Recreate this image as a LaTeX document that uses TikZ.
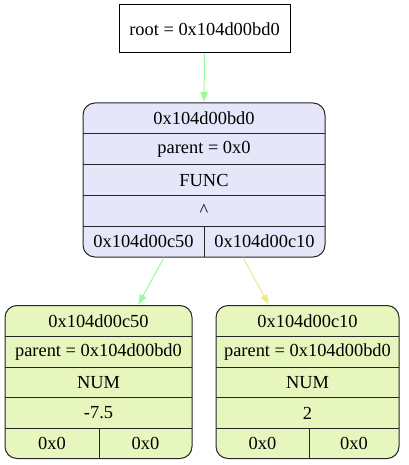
\documentclass[tikz,border=0pt]{standalone}
\usepackage{fontspec}
\setmainfont{Liberation Serif}
\usetikzlibrary{arrows.meta}
\definecolor{lav}{HTML}{E6E6FA}
\definecolor{leaf}{HTML}{E6F6BC}
\definecolor{pgreen}{HTML}{98FB98}
\definecolor{khak}{HTML}{F0E68C}
\tikzset{
  rec/.style={draw=black!85, line width=1pt, rounded corners=12pt, inner sep=0pt},
  plainbox/.style={draw=black, line width=1pt, inner sep=0pt},
  lbl/.style={inner sep=0pt, font=\fontsize{18.4}{20}\selectfont},
  sep/.style={draw=black!85, line width=1pt},
  edge/.style={line width=1pt, -{Triangle[length=10pt,width=7pt]}, shorten >=0.5pt}
}
\begin{document}
\begin{tikzpicture}[x=1pt,y=-1pt]
\useasboundingbox (0,0) rectangle (408,465);
% root
\node[plainbox, minimum width=171pt, minimum height=48pt] (root) at (204.5,29) {};
\node[lbl] (roott) at (204.5,29) {root = 0x104d00bd0};
% main record
\node[rec, fill=lav, minimum width=242pt, minimum height=154pt] (m) at (204,180) {};
\draw[sep] (83,133.8) -- (325,133.8);
\draw[sep] (83,164.6) -- (325,164.6);
\draw[sep] (83,195.4) -- (325,195.4);
\draw[sep] (83,226.2) -- (325,226.2);
\draw[sep] (204,226.2) -- (204,257);
\node[lbl] (m1) at (204,118.4) {0x104d00bd0};
\node[lbl] (m2) at (204,149.2) {parent = 0x0};
\node[lbl] (m3) at (204,180) {FUNC};
\node[lbl] (m4) at (204,210.8) {\^{}};
\node[lbl] (m5) at (143.5,241.6) {0x104d00c50};
\node[lbl] (m6) at (264.5,241.6) {0x104d00c10};
% left child
\node[rec, fill=leaf, minimum width=187pt, minimum height=153pt] (l) at (98.5,382) {};
\draw[sep] (5,336.6) -- (192,336.6);
\draw[sep] (5,367.2) -- (192,367.2);
\draw[sep] (5,397.8) -- (192,397.8);
\draw[sep] (5,428.4) -- (192,428.4);
\draw[sep] (99,428.4) -- (99,459);
\node[lbl] (l1) at (98.5,321.3) {0x104d00c50};
\node[lbl] (l2) at (98.5,351.9) {parent = 0x104d00bd0};
\node[lbl] (l3) at (98.5,382.5) {NUM};
\node[lbl] (l4) at (98.5,413.1) {-7.5};
\node[lbl] (l5) at (52,443.7) {0x0};
\node[lbl] (l6) at (145.5,443.7) {0x0};
% right child
\node[rec, fill=leaf, minimum width=183pt, minimum height=153pt] (r) at (307.5,382) {};
\draw[sep] (216,336.6) -- (399,336.6);
\draw[sep] (216,367.2) -- (399,367.2);
\draw[sep] (216,397.8) -- (399,397.8);
\draw[sep] (216,428.4) -- (399,428.4);
\draw[sep] (309,428.4) -- (309,459);
\node[lbl] (r1) at (307.5,321.3) {0x104d00c10};
\node[lbl] (r2) at (307.5,351.9) {parent = 0x104d00bd0};
\node[lbl] (r3) at (307.5,382.5) {NUM};
\node[lbl] (r4) at (307.5,413.1) {2};
\node[lbl] (r5) at (262.5,443.7) {0x0};
\node[lbl] (r6) at (354,443.7) {0x0};
% edges
\draw[edge, pgreen] (root.south) -- (m.north);
\draw[edge, pgreen] ([xshift=-40pt]m.south) -- ([xshift=39.5pt]l.north);
\draw[edge, khak] ([xshift=39pt]m.south) -- ([xshift=-38.5pt]r.north);
\end{tikzpicture}
\end{document}
